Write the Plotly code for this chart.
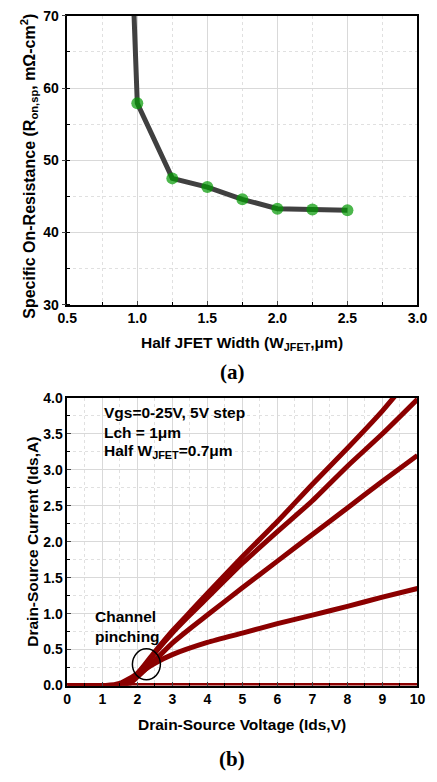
import plotly.graph_objects as go

# ---- Data (a) ----
w_jfet = [0.975, 1.0, 1.25, 1.5, 1.75, 2.0, 2.25, 2.5]
ron_sp = [71.0, 57.9, 47.5, 46.3, 44.6, 43.3, 43.2, 43.1]
marker_sizes = [0, 12, 12, 12, 12, 12, 12, 12]

# ---- Data (b) ----
vds_flat = [0, 10]
ids_flat = [0, 0]
vds_a = [0, 1.1, 1.5, 2.0, 2.5, 3.0, 3.5, 4.0, 5.0, 6.0, 7.0, 8.0, 9.0, 9.4]
ids_a = [0, 0, 0.03, 0.17, 0.47, 0.76, 1.02, 1.28, 1.79, 2.28, 2.80, 3.30, 3.82, 4.05]
vds_b = [0, 1.6, 2.0, 2.5, 3.0, 3.5, 4.0, 5.0, 6.0, 7.0, 8.0, 9.0, 10.0]
ids_b = [0, 0, 0.14, 0.45, 0.73, 0.98, 1.22, 1.70, 2.14, 2.57, 3.05, 3.50, 3.98]
vds_c = [0, 1.7, 2.0, 2.5, 3.0, 3.5, 4.0, 5.0, 6.0, 7.0, 8.0, 9.0, 10.0]
ids_c = [0, 0, 0.12, 0.35, 0.59, 0.79, 0.98, 1.36, 1.73, 2.10, 2.47, 2.84, 3.20]
vds_d = [0, 1.6, 2.0, 2.5, 3.0, 4.0, 5.0, 6.0, 7.0, 8.0, 9.0, 10.0]
ids_d = [0, 0, 0.15, 0.31, 0.43, 0.60, 0.73, 0.86, 0.98, 1.10, 1.23, 1.35]

RED = "#8B0000"
FONT = "Liberation Sans"

fig = go.Figure()

fig.add_trace(go.Scatter(
    x=w_jfet, y=ron_sp, mode="lines+markers",
    line=dict(color="#404040", width=5),
    marker=dict(color="#009900", size=marker_sizes, line=dict(width=0)),
    xaxis="x", yaxis="y", showlegend=False, cliponaxis=True))

for xs, ys in [(vds_flat, ids_flat), (vds_d, ids_d), (vds_c, ids_c), (vds_b, ids_b), (vds_a, ids_a)]:
    fig.add_trace(go.Scatter(
        x=xs, y=ys, mode="lines", line=dict(color=RED, width=5, shape="spline", smoothing=0.6),
        xaxis="x2", yaxis="y2", showlegend=False))

tickfont = dict(family=FONT, size=14, color="black", weight="bold")
grid = dict(showgrid=True, gridcolor="#d9d9d9", gridwidth=1)
minor_grid = dict(showgrid=True, gridcolor="#e0e0e0", griddash="dot", gridwidth=1,
                  ticks="inside", ticklen=3, tickcolor="black")

xdom = [60 / 437, 427 / 437]

fig.update_layout(
    width=437, height=782,
    margin=dict(l=0, r=0, t=0, b=0),
    paper_bgcolor="white", plot_bgcolor="white",
    font=dict(family=FONT, color="black"),
    xaxis=dict(domain=xdom, anchor="y", range=[0.5, 3.0], dtick=0.5, tick0=0.5,
               tickformat=".1f", tickfont=tickfont, showline=True, linecolor="black",
               linewidth=1.5, mirror=True, ticks="inside", ticklen=4, zeroline=False,
               minor=dict(dtick=0.25, tick0=0.5, **minor_grid), **grid),
    yaxis=dict(domain=[1 - 303 / 782, 1 - 8 / 782], anchor="x", range=[30, 70], dtick=10,
               tickfont=tickfont, showline=True, linecolor="black", linewidth=1.5,
               mirror=True, ticks="outside", ticklen=4, zeroline=False,
               minor=dict(dtick=5, tick0=30, **minor_grid), **grid),
    xaxis2=dict(domain=xdom, anchor="y2", range=[0, 10], dtick=1,
                tickfont=tickfont, showline=True, linecolor="black",
                linewidth=1.5, mirror=True, ticks="inside", ticklen=4, zeroline=False,
                minor=dict(dtick=0.5, tick0=0, **minor_grid), **grid),
    yaxis2=dict(domain=[1 - 691.7 / 782, 1 - 398 / 782], anchor="x2", range=[0, 4.0],
                dtick=0.5, tickformat=".1f", tickfont=tickfont, showline=True,
                linecolor="black", linewidth=1.5, mirror=True, ticks="inside",
                ticklen=4, zeroline=False,
                minor=dict(dtick=0.25, tick0=0, **minor_grid), **grid),
)

title_font = dict(family=FONT, size=15.5, color="black", weight="bold")
ann = []
# axis titles (a)
ann.append(dict(text="Half JFET Width (W<sub>JFET</sub>,μm)", x=243 / 437, y=1 - 343 / 782,
                xref="paper", yref="paper", showarrow=False, font=title_font,
                xanchor="center", yanchor="middle"))
ann.append(dict(text="Specific On-Resistance (R<sub>on,sp</sub>, mΩ-cm<sup>2</sup>)",
                x=20 / 437, y=1 - 162 / 782, xref="paper", yref="paper", showarrow=False,
                font=dict(family=FONT, size=16, color="black", weight="bold"),
                textangle=-90, xanchor="center", yanchor="middle"))
ann.append(dict(text="<b>(a)</b>", x=233 / 437, y=1 - 372 / 782, xref="paper", yref="paper",
                showarrow=False, font=dict(family="Liberation Serif", size=21, color="black"),
                xanchor="center", yanchor="middle"))
# axis titles (b)
ann.append(dict(text="Drain-Source Voltage (Ids,V)", x=243 / 437, y=1 - 731 / 782,
                xref="paper", yref="paper", showarrow=False, font=title_font,
                xanchor="center", yanchor="middle"))
ann.append(dict(text="Drain-Source Current (Ids,A)", x=24 / 437, y=1 - 545 / 782,
                xref="paper", yref="paper", showarrow=False, font=title_font, textangle=-90,
                xanchor="center", yanchor="middle"))
ann.append(dict(text="<b>(b)</b>", x=233 / 437, y=1 - 767 / 782, xref="paper", yref="paper",
                showarrow=False, font=dict(family="Liberation Serif", size=21, color="black"),
                xanchor="center", yanchor="middle"))
# in-plot labels (b)
bold15 = dict(family=FONT, size=15.5, color="black", weight="bold")
for txt, ypx in [("Vgs=0-25V, 5V step", 413), ("Lch = 1μm", 433),
                 ("Half W<sub>JFET</sub>=0.7μm", 453)]:
    ann.append(dict(text=txt, x=96 / 437, y=1 - ypx / 782, xref="paper", yref="paper",
                    showarrow=False, font=bold15, xanchor="left", yanchor="middle"))
ann.append(dict(text="Channel<br>pinching", x=87 / 437, y=1 - 631 / 782, xref="paper",
                yref="paper", showarrow=False, font=bold15, xanchor="left",
                yanchor="middle", align="left"))
fig.update_layout(annotations=ann)

fig.add_shape(type="circle", xref="x2", yref="y2", x0=1.86, x1=2.66, y0=0.08, y1=0.51,
              line=dict(color="black", width=1.5))

fig.write_html("out.html")
